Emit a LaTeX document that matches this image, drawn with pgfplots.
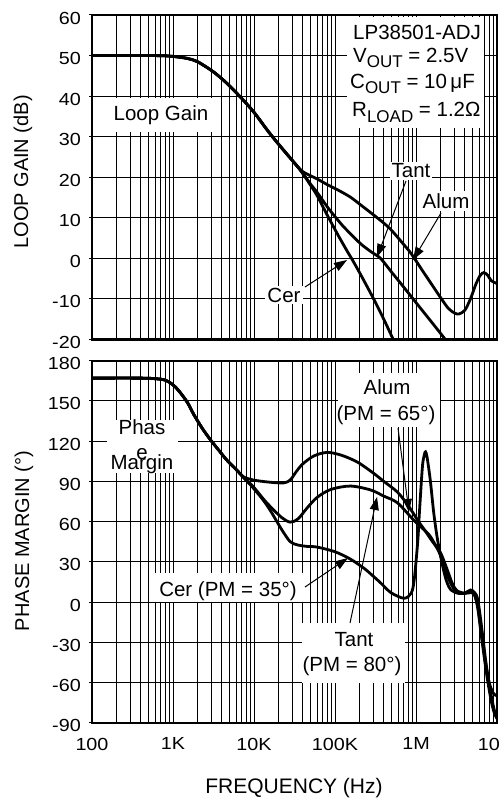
\documentclass[border=0pt]{standalone}
\usepackage{fontspec}
\setmainfont{Liberation Sans}
\newfontfamily\tickfont{Liberation Sans}[FakeStretch=1.13]
\usepackage{pgfplots}
\pgfplotsset{compat=1.18}
\usetikzlibrary{arrows.meta}

\begin{document}
\begin{tikzpicture}
\useasboundingbox (0pt,0pt) rectangle (499pt,801pt);

% ---------------- Loop gain ----------------
\begin{axis}[scale only axis, width=405pt, height=324.5pt,
  at={(92pt,461.5pt)}, anchor=south west,
  xmode=log, xmin=100, xmax=1e7,
  ymin=-20, ymax=60, ytick={-20,-10,...,60},
  axis line style={line width=2.2pt},
  grid=both,
  major grid style={black, line width=0.9pt},
  minor grid style={black, line width=0.9pt},
  xtick={100,1000,10000,100000,1000000,10000000}, xticklabels={},
  xtick pos=bottom, ytick pos=left,
  xtick style={draw=none}, minor tick length=0pt,
  ytick style={black, line width=1pt}, tick align=outside, major tick length=3pt,
  tick label style={font={\tickfont\fontsize{17.5}{18}\selectfont}},
  /pgf/number format/assume math mode=true,
  yticklabel style={inner sep=0pt, xshift=-8pt, yshift=-3pt}]
% Alum
\addplot[black, line width=2.8pt, smooth, tension=0.5] coordinates {(100,50)(500,50)(800,49.95)(1000,49.8)(1500,49.3)(2000,48.5)(3000,46.3)(4000,44.3)(5000,42.5)(7000,39.5)(10000,36)(15000,31.3)(20000,28.2)(25000,25.9)(37500,21.9)(45000,20.8)(60000,19.6)(80000,18.2)(110000,16.8)(155000,15.1)(210000,13.1)(300000,10.7)(400000,8.7)(500000,6.9)(700000,3.5)(870000,1.2)(1200000,-3)(1660000,-7.2)(2000000,-9.6)(2500000,-12.3)(3000000,-13.5)(3400000,-13.7)(4000000,-12.8)(4700000,-10)(5500000,-6.3)(6200000,-4.2)(6900000,-3.5)(7700000,-4.2)(8500000,-5.5)(10000000,-6.2)};
% Tant
\addplot[black, line width=2.8pt, smooth, tension=0.5] coordinates {(100,50)(500,50)(800,49.95)(1000,49.8)(1500,49.3)(2000,48.5)(3000,46.3)(4000,44.3)(5000,42.5)(7000,39.5)(10000,36)(15000,31.3)(20000,28.2)(25000,25.9)(37500,21.7)(50000,18.3)(60000,16.3)(81000,12.6)(100000,10.3)(125000,8)(160000,5.8)(210000,3.5)(280000,1.6)(365000,0)(500000,-3.4)(700000,-7)(1000000,-10.9)(1500000,-15.3)(2200000,-19.5)(2700000,-22)};
% Cer
\addplot[black, line width=2.8pt, smooth, tension=0.5] coordinates {(100,50)(500,50)(800,49.95)(1000,49.8)(1500,49.3)(2000,48.5)(3000,46.3)(4000,44.3)(5000,42.5)(7000,39.5)(10000,36)(15000,31.3)(20000,28.2)(25000,25.9)(37500,21.7)(50000,18)(60000,15.5)(81000,10.5)(110000,5.6)(144000,1.5)(160000,0)(210000,-4.2)(300000,-10)(400000,-15)(510000,-19.5)(600000,-22.5)};
\end{axis}

% ---------------- Phase margin ----------------
\begin{axis}[scale only axis, width=405pt, height=362pt,
  at={(92pt,78.3pt)}, anchor=south west,
  xmode=log, xmin=100, xmax=1e7,
  ymin=-90, ymax=180, ytick={-90,-60,...,180},
  axis line style={line width=2.2pt},
  grid=both,
  major grid style={black, line width=0.9pt},
  minor grid style={black, line width=0.9pt},
  xtick={100,1000,10000,100000,1000000,10000000},
  xticklabels={100,1K,10K,100K,1M,10M},
  xtick pos=bottom, ytick pos=left,
  xtick style={draw=none}, minor tick length=0pt,
  ytick style={black, line width=1pt}, tick align=outside, major tick length=3pt,
  tick label style={font={\tickfont\fontsize{17.5}{18}\selectfont}},
  /pgf/number format/assume math mode=true,
  yticklabel style={inner sep=0pt, xshift=-8pt, yshift=-3pt},
  xticklabel style={inner sep=0pt, yshift=-12pt}]
% Alum
\addplot[black, line width=2.8pt, smooth, tension=0.5] coordinates {(100,167)(400,167)(600,166.6)(800,165.5)(1000,162)(1200,157)(1500,149)(1800,140)(2300,129.5)(2900,121)(3700,113)(4600,106)(6000,99)(7400,93.5)(9800,91)(15000,89.5)(23000,88.8)(28000,91)(33000,97)(40000,103)(55000,109)(80000,111.6)(120000,109.5)(190000,104.3)(300000,96)(400000,90)(590000,82)(800000,72)(1050000,61)(1300000,53)(1600000,45)(2000000,37)(2400000,25)(2800000,14)(3200000,8.5)(4000000,6.5)(4800000,7)(5300000,5)(5800000,-5)(6500000,-28)(7500000,-55)(8500000,-74)(9300000,-83)(10000000,-87)};
% Tant
\addplot[black, line width=2.8pt, smooth, tension=0.5] coordinates {(100,167)(400,167)(600,166.6)(800,165.5)(1000,162)(1200,157)(1500,149)(1800,140)(2300,129.5)(2900,121)(3700,113)(4600,106)(6000,99)(7400,93)(9800,86)(13000,77)(16000,71)(22000,63)(28000,59.6)(35000,62)(45000,70)(60000,78)(89000,84)(155000,86.5)(275000,83.6)(400000,79)(590000,74)(940000,61)(1200000,55)(1500000,49)(2000000,35)(2500000,18)(3000000,9)(3500000,6.5)(4300000,7)(4800000,8)(5300000,5)(5800000,-3.5)(6400000,-22)(7200000,-45)(8000000,-60)(9000000,-68)(10000000,-70)};
% Cer
\addplot[black, line width=2.8pt, smooth, tension=0.5] coordinates {(100,167)(400,167)(600,166.6)(800,165.5)(1000,162)(1200,157)(1500,149)(1800,140)(2300,129.5)(2900,121)(3700,113)(4600,106)(6000,99)(7400,93)(9800,85)(13000,76)(16000,68)(22000,54)(28000,45)(35000,42.5)(45000,41.5)(60000,41)(100000,37.5)(155000,32)(230000,25)(300000,19)(370000,14)(490000,7)(710000,2.8)(870000,6.5)(950000,16.5)(1050000,45)(1100000,66)(1200000,101)(1270000,110)(1310000,112)(1370000,108)(1500000,91)(1660000,66)(1850000,46)(2140000,26.4)(2400000,15)(2700000,9)(3300000,6.5)(4000000,6.6)(4700000,9)(5300000,7)(5800000,1.6)(6500000,-20)(7300000,-45)(8200000,-65)(9200000,-80)(10000000,-86)};
\end{axis}

% ---------------- Annotations (pixel coordinates, y downward) ----------------
\begin{scope}[x=1pt, y=-1pt, yshift=801pt, font=\fontsize{20.5}{22}\selectfont]
\tikzset{arr/.style={line width=1pt, -{Triangle[length=13pt,width=9pt]}}}
% axis titles
\node[rotate=90] at (23,172) {\fontsize{20}{22}\selectfont LOOP GAIN (dB)};
\node[rotate=90] at (24,541) {\fontsize{20}{22}\selectfont PHASE MARGIN (°)};
\node at (294,788) {\fontsize{21}{22}\selectfont FREQUENCY (Hz)};

% top plot labels
\node[fill=white, minimum width=105pt, minimum height=34pt, inner sep=0pt] at (161,115) {Loop Gain};
\fill[white] (347,17) rectangle (484,128);
\node[anchor=base west, inner sep=0pt] at (353,40) {LP38501-ADJ};
\node[anchor=base west, inner sep=0pt] at (353,63) {V\raisebox{-5pt}{\fontsize{17}{17}\selectfont OUT} = 2.5V};
\node[anchor=base west, inner sep=0pt] at (350,89) {C\raisebox{-5pt}{\fontsize{17}{17}\selectfont OUT} = 10\,μF};
\node[anchor=base west, inner sep=0pt] at (352,117) {R\raisebox{-6pt}{\fontsize{17}{17}\selectfont LOAD} = 1.2Ω};

\node[fill=white, inner sep=2pt] at (411,171) {Tant};
\draw[arr] (406,181) -- (377,257);
\node[fill=white, inner sep=2pt] at (446,201) {Alum};
\draw[arr] (441,213) -- (413,260);
\node[fill=white, inner sep=2pt] at (284,295) {Cer};
\draw[arr] (305,287) -- (347,260);

% bottom plot labels
\fill[white] (107,420) rectangle (178,473);
\node[anchor=base, inner sep=0pt] at (142,435) {Phas};
\node[anchor=base, inner sep=0pt] at (142,460) {e};
\node[anchor=base, inner sep=0pt] at (142,470) {Margin};

\fill[white] (155,573) rectangle (303,602);
\node[anchor=base, inner sep=0pt] at (228,597) {Cer (PM = 35°)};
\draw[arr] (305,587) -- (348,558);

\fill[white] (338,373) rectangle (440,427);
\node[anchor=base, inner sep=0pt] at (387,395) {Alum};
\node[anchor=base, inner sep=0pt] at (386,421) {(PM = 65°)};
\draw[arr] (398,428) -- (409,512);

\fill[white] (302,623) rectangle (405,683);
\node[anchor=base, inner sep=0pt] at (354,647) {Tant};
\node[anchor=base, inner sep=0pt] at (352,672) {(PM = 80°)};
\draw[arr] (350,623) -- (377,497);
\end{scope}
\end{tikzpicture}
\end{document}
